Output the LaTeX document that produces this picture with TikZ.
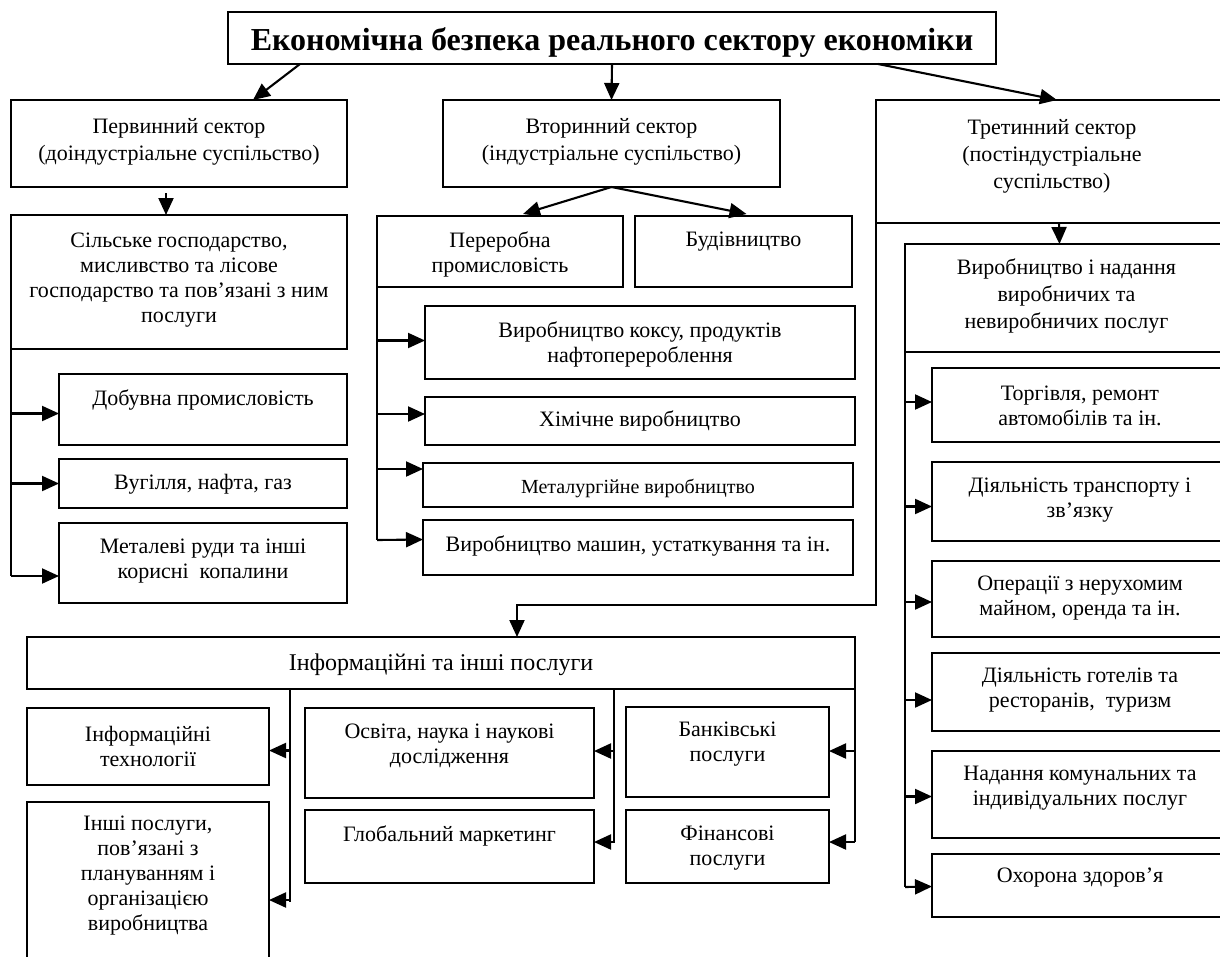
\documentclass[tikz,border=0pt]{standalone}
\usepackage{fontspec}
\setmainfont{Liberation Serif}
\usetikzlibrary{arrows.meta,calc}
\tikzset{
  boxst/.style={draw, line width=2.1pt, rectangle, inner sep=0pt, outer sep=0pt},
  txt/.style={align=center, inner sep=0pt, font=\fontsize{22}{25}\selectfont},
  wide/.style={font=\fontsize{22}{27}\selectfont},
  arr/.style={line width=2.1pt, -{Triangle[length=17pt,width=15pt]}},
  ln/.style={line width=2.1pt},
}
% [text style] name, x1, y1, x2, y2, text y, text
\newcommand\rbox[8][]{%
  \node[boxst, minimum width={#5-#3}, minimum height={#6-#4}] (#2) at ({(#3+#5)/2},{(#4+#6)/2}) {};
  \node[txt,#1] (#2t) at ({(#3+#5)/2},#7) {#8};}
\begin{document}
\begin{tikzpicture}[x=1pt,y=-1pt]
\useasboundingbox (0,0) rectangle (1220,956);
\clip (0,0) rectangle (1220,956);
\fill[white] (0,0) rectangle (1220,956);
% title
\node[boxst, minimum width=768, minimum height=52] (title) at (612,38) {};
\node[inner sep=0pt, font=\fontsize{32}{34}\bfseries\selectfont] (titlet) at (612,42) {Економічна безпека реального сектору економіки};
% sectors
\rbox[wide]{prim}{11}{100}{347}{187}{142}{Первинний сектор\\(доіндустріальне суспільство)}
\rbox[wide]{sec}{443}{100}{780}{187}{142}{Вторинний сектор\\(індустріальне суспільство)}
\rbox[wide]{tert}{876}{100}{1228}{223}{156}{Третинний сектор\\(постіндустріальне\\суспільство)}
% primary column
\rbox{agri}{11}{215}{347}{349}{280}{Сільське господарство,\\мисливство та лісове\\господарство та пов’язані з ним\\послуги}
\rbox{dob}{59}{374}{347}{445}{400}{Добувна промисловість}
\rbox{vug}{59}{459}{347}{508}{484}{Вугілля, нафта, газ}
\rbox{met}{59}{523}{347}{603}{561}{Металеві руди та інші\\корисні\ \ копалини}
% secondary column
\rbox{perer}{377}{216}{623}{287}{254}{Переробна\\промисловість}
\rbox{bud}{635}{216}{852}{287}{242}{Будівництво}
\rbox{koks}{425}{306}{855}{379}{344}{Виробництво коксу, продуктів\\нафтоперероблення}
\rbox{khim}{425}{397}{855}{445}{421}{Хімічне виробництво}
\rbox[font=\fontsize{20}{24}\selectfont]{metal}{423}{463}{853}{507}{488}{Металургійне виробництво}
\rbox{mash}{423}{520}{853}{575}{546}{Виробництво машин, устаткування та ін.}
% tertiary column
\rbox[wide]{vyrob}{905}{244}{1228}{352}{296}{Виробництво і надання\\виробничих та\\невиробничих послуг}
\rbox{torh}{932}{368}{1228}{442}{406}{Торгівля, ремонт\\автомобілів та ін.}
\rbox{trans}{932}{462}{1228}{541}{500}{Діяльність транспорту і\\зв’язку}
\rbox{oper}{932}{561}{1228}{637}{598}{Операції з нерухомим\\майном, оренда та ін.}
\rbox{hotel}{932}{653}{1228}{731}{690}{Діяльність готелів та\\ресторанів,\ \ туризм}
\rbox{nadan}{932}{751}{1228}{838}{788}{Надання комунальних та\\індивідуальних послуг}
\rbox{okh}{932}{854}{1228}{917}{878}{Охорона здоров’я}
% information services
\rbox[font=\fontsize{24}{27}\selectfont]{info}{27}{637}{855}{689}{665}{Інформаційні та інші послуги}
\rbox{itech}{27}{708}{269}{785}{746}{Інформаційні\\технології}
\rbox{inshi}{27}{802}{269}{970}{876}{Інші послуги,\\пов’язані з\\плануванням і\\організацією\\виробництва}
\rbox{osv}{305}{708}{594}{798}{746}{Освіта, наука і наукові\\дослідження}
\rbox{hlob}{305}{810}{594}{883}{836}{Глобальний маркетинг}
\rbox{bank}{626}{707}{829}{797}{744}{Банківські\\послуги}
\rbox{fin}{626}{810}{829}{883}{848}{Фінансові\\послуги}
% top arrows
\draw[arr] ($(title.south west)+(72,0)$) -- ($(prim.north)+(74,0)$);
\draw[arr] (title.south) -- (sec.north);
\draw[arr] ($(title.south west)+(650,0)$) -- ($(tert.north)+(5,0)$);
\draw[arr] ($(prim.south)+(-13,6)$) -- ($(agri.north)+(-13,0)$);
\draw[arr] (sec.south) -- ($(perer.north)+(23,-2)$);
\draw[arr] (sec.south) -- ($(bud.north)+(3,-2)$);
\draw[arr] ($(tert.south)+(7,0)$) -- ($(vyrob.north)+(-7,0)$);
% primary branch
\coordinate (pl) at ($(agri.south west)+(0,227)$);
\draw[ln] (agri.south west) -- (pl);
\draw[arr] ($(agri.south west)!(dob.west)!(pl)+(0,4)$) -- ($(dob.west)+(0,4)$);
\draw[arr] ($(agri.south west)!(vug.west)!(pl)$) -- (vug.west);
\draw[arr] (pl) -- ($(met.west)+(0,13)$);
% secondary branch
\coordinate (sl) at ($(perer.south west)+(0,253)$);
\draw[ln] (perer.south west) -- (sl);
\draw[arr] ($(perer.south west)!(koks.west)!(sl)+(0,-2)$) -- ($(koks.west)+(0,-2)$);
\draw[arr] ($(perer.south west)!(khim.west)!(sl)+(0,-7)$) -- ($(khim.west)+(0,-7)$);
\draw[arr] ($(perer.south west)!(metal.west)!(sl)+(0,-16)$) -- ($(metal.west)+(0,-16)$);
\draw[arr] (sl) -- ($(mash.west)+(0,-8)$);
% tertiary branch
\coordinate (tl) at ($(vyrob.south west)+(0,535)$);
\draw[ln] (vyrob.south west) -- (tl);
\draw[arr] ($(vyrob.south west)!(torh.west)!(tl)+(0,-3)$) -- ($(torh.west)+(0,-3)$);
\draw[arr] ($(vyrob.south west)!(trans.west)!(tl)+(0,5)$) -- ($(trans.west)+(0,5)$);
\draw[arr] ($(vyrob.south west)!(oper.west)!(tl)+(0,3)$) -- ($(oper.west)+(0,3)$);
\draw[arr] ($(vyrob.south west)!(hotel.west)!(tl)+(0,8)$) -- ($(hotel.west)+(0,8)$);
\draw[arr] ($(vyrob.south west)!(nadan.west)!(tl)+(0,2)$) -- ($(nadan.west)+(0,2)$);
\draw[arr] (tl) -- ($(okh.west)+(0,1)$);
% tertiary to information services
\coordinate (tb) at ($(tert.south west)+(0,382)$);
\draw[arr] (tert.south west) -- (tb) -| ($(info.north)+(76,0)$);
% information branches
\coordinate (b1t) at ($(info.south west)+(263,0)$);
\coordinate (b1b) at ($(b1t)+(0,213)$);
\draw[ln] (b1t) -- (b1b);
\draw[arr] ($(b1t)!(itech.east)!(b1b)+(0,4)$) -- ($(itech.east)+(0,4)$);
\draw[arr] ($(b1b)+(0,-2)$) -- ($(inshi.east |- b1b)+(0,-2)$);
\coordinate (b2t) at ($(info.south west)+(587,0)$);
\coordinate (b2b) at ($(b2t)+(0,154)$);
\draw[ln] (b2t) -- (b2b);
\draw[arr] ($(b2t)!(osv.east)!(b2b)+(0,-2)$) -- ($(osv.east)+(0,-2)$);
\draw[arr] ($(b2b)+(0,-1)$) -- ($(hlob.east |- b2b)+(0,-1)$);
\coordinate (b3b) at ($(info.south east)+(0,153)$);
\draw[ln] (info.south east) -- (b3b);
\draw[arr] ($(info.south east)!(bank.east)!(b3b)+(0,-1)$) -- ($(bank.east)+(0,-1)$);
\draw[arr] (b3b) -- (fin.east |- b3b);
\end{tikzpicture}
\end{document}
